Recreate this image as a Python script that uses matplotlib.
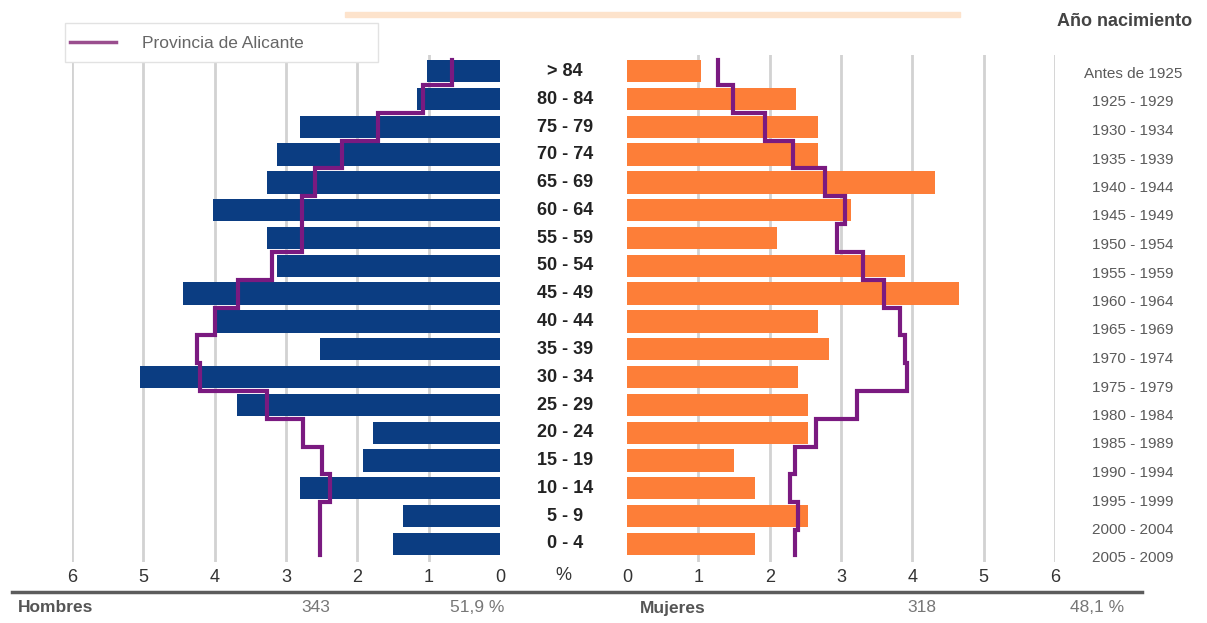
import numpy as np
import matplotlib.pyplot as plt
from matplotlib.patches import Rectangle
from matplotlib.lines import Line2D

plt.rcParams['font.family'] = ['Liberation Sans', 'DejaVu Sans']

# age groups, oldest first
edades = ["> 84", "80 - 84", "75 - 79", "70 - 74", "65 - 69", "60 - 64", "55 - 59",
          "50 - 54", "45 - 49", "40 - 44", "35 - 39", "30 - 34", "25 - 29",
          "20 - 24", "15 - 19", "10 - 14", "5 - 9", "0 - 4"]
nacimiento = ["Antes de 1925", "1925 - 1929", "1930 - 1934", "1935 - 1939", "1940 - 1944",
              "1945 - 1949", "1950 - 1954", "1955 - 1959", "1960 - 1964", "1965 - 1969",
              "1970 - 1974", "1975 - 1979", "1980 - 1984", "1985 - 1989", "1990 - 1994",
              "1995 - 1999", "2000 - 2004", "2005 - 2009"]

# % of population, municipality
hombres = [1.02, 1.16, 2.80, 3.13, 3.27, 4.03, 3.27, 3.13, 4.45, 3.97, 2.52, 5.05,
           3.69, 1.78, 1.92, 2.80, 1.36, 1.50]
mujeres = [1.04, 2.37, 2.68, 2.68, 4.32, 3.14, 2.10, 3.90, 4.65, 2.68, 2.83, 2.40,
           2.54, 2.54, 1.50, 1.80, 2.54, 1.80]

# % of population, province
prov_hombres = [0.67, 1.08, 1.71, 2.22, 2.60, 2.78, 2.78, 3.20, 3.67, 4.00, 4.25, 4.20,
                3.27, 2.76, 2.50, 2.38, 2.52, 2.52]
prov_mujeres = [1.28, 1.48, 1.94, 2.33, 2.78, 3.06, 2.95, 3.31, 3.60, 3.83, 3.90, 3.93,
                3.22, 2.65, 2.35, 2.28, 2.40, 2.35]

total_h, pct_h = "343", "51,9 %"
total_m, pct_m = "318", "48,1 %"

AZUL = "#0b3d82"
NARANJA = "#fd7e38"
MORADO = "#7a1a80"
GRID = "#d2d2d2"

W, H = 1207, 623
fig = plt.figure(figsize=(W / 100, H / 100), dpi=100)


def fx(px):
    return px / W


def fy(py):
    return 1 - py / H


n = len(edades)
y = np.arange(n)[::-1]  # top row = oldest

ax_bottom, ax_top = 562, 55
axl = fig.add_axes([fx(72), fy(ax_bottom), fx(500 - 72), fy(ax_top) - fy(ax_bottom)])
axr = fig.add_axes([fx(627), fy(ax_bottom), fx(1055 - 627), fy(ax_top) - fy(ax_bottom)])


def step_line(vals):
    # vertical segment per row, joined at row boundaries
    xs = np.repeat(vals, 2)
    edges = np.concatenate([[y[0] + 0.4], (y[:-1] + y[1:]) / 2, [y[-1] - 0.4]])
    ys = np.repeat(edges, 2)[1:-1]
    return xs, ys


for ax, vals, prov, color in [(axl, hombres, prov_hombres, AZUL),
                              (axr, mujeres, prov_mujeres, NARANJA)]:
    ax.set_facecolor("none")
    for t in range(1, 7):
        ax.axvline(t, color=GRID, lw=2, zorder=0)
    ax.barh(y, vals, height=0.8, color=color, zorder=2)
    xs, ys = step_line(prov)
    ax.plot(xs, ys, color=MORADO, lw=3, solid_joinstyle="miter", zorder=3)
    ax.set_xlim(0, 6)
    ax.set_ylim(-0.65, 17.58)
    ax.set_xticks(range(7))
    ax.set_yticks([])
    ax.tick_params(axis="x", length=0, pad=5, labelsize=13, labelcolor="#333333")
    for s in ax.spines.values():
        s.set_visible(False)
axl.invert_xaxis()

# age group labels in the centre
for lab, yy in zip(edades, y):
    py = 544 - yy * 27.8
    fig.text(fx(565), fy(py), lab, ha="center", va="center", fontsize=13,
             fontweight="bold", color="#222222")

# birth-year labels on the right
for i, lab in enumerate(nacimiento):
    fig.text(fx(1133), fy(74 + i * 28.5), lab, ha="center", va="center", fontsize=11,
             color="#5a5a5a")

fig.text(fx(1125), fy(22), "Año nacimiento", ha="center", va="center", fontsize=13,
         fontweight="bold", color="#444444")
fig.text(fx(563), fy(575), "%", ha="center", va="center", fontsize=13, color="#333333")

# peach band across the top
fig.patches.append(Rectangle((fx(345), fy(17)), fx(960 - 345), fy(12) - fy(17),
                             transform=fig.transFigure, color="#fde3cc", zorder=0))

# totals row
fig.add_artist(Line2D([fx(12), fx(1142)], [fy(592), fy(592)], color="#5c5c5c", lw=2.5))
fig.text(fx(18), fy(608), "Hombres", ha="left", va="center", fontsize=12.5,
         fontweight="bold", color="#555555")
fig.text(fx(316), fy(608), total_h, ha="center", va="center", fontsize=12.5, color="#777777")
fig.text(fx(477), fy(608), pct_h, ha="center", va="center", fontsize=12.5, color="#777777")
fig.text(fx(640), fy(608), "Mujeres", ha="left", va="center", fontsize=12.5,
         fontweight="bold", color="#555555")
fig.text(fx(922), fy(608), total_m, ha="center", va="center", fontsize=12.5, color="#777777")
fig.text(fx(1097), fy(608), pct_m, ha="center", va="center", fontsize=12.5, color="#777777")

# legend box
fig.patches.append(Rectangle((fx(65), fy(62)), fx(378 - 65), fy(23) - fy(62),
                             transform=fig.transFigure, facecolor="white",
                             edgecolor="#e2e2e2", lw=1, zorder=5))
fig.add_artist(Line2D([fx(70), fx(116)], [fy(42), fy(42)], color="#9a4e8e", lw=2.5, zorder=6))
fig.text(fx(142), fy(43), "Provincia de Alicante", ha="left", va="center", fontsize=12.5,
         color="#666666", zorder=6)

fig.savefig("out.png", dpi=100, facecolor="white")
